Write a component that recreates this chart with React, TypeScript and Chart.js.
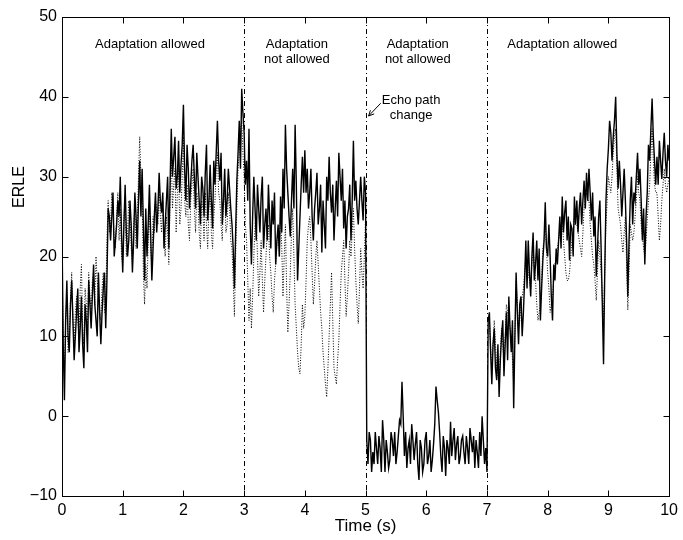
import React, { useEffect, useRef } from "react";
import { Chart, registerables } from "chart.js";

Chart.register(...registerables);

// ---- data (time step of the sampled curves, seconds) ----
const STEP_S = 0.02;

// Solid curve, t = 0 .. 10 s (one row per second)
const solidERLE = [
  23, 9, 2, 12, 17, 10, 8, 14, 17, 12, 7, 10, 13, 16, 8, 11, 15, 9, 6, 14, 12, 8, 17, 14, 11, 15, 19, 14, 12, 10, 18, 13, 9, 13, 16, 18, 11, 17, 26, 25, 22, 25, 28, 20, 22, 24, 27, 25, 30, 23,
  18, 24, 29, 23, 20, 22, 27, 24, 18, 22, 28, 25, 21, 27, 32, 25, 31, 24, 17, 26, 20, 24, 29, 23, 17, 21, 25, 28, 23, 26, 30.5, 27, 25.5, 28, 21, 24, 27, 30, 21, 29, 36, 30, 32.5, 35, 28.5, 30, 34.5, 28, 31.5, 34,
  39, 31, 27, 34, 31, 26, 29, 32, 34, 30, 26, 33, 30, 27, 24, 30, 28.5, 25, 30.5, 34, 24.5, 27, 31.5, 27, 23.5, 32, 29, 33, 37, 32, 29.5, 33, 24, 27, 31, 25, 27, 31, 28.5, 26, 24, 21, 16, 23, 29.5, 33, 37, 31, 41, 38,
  35.5, 29, 32, 27, 36, 24, 19, 25, 30, 26, 22, 29, 26, 23, 27.5, 30, 21, 24, 26, 22, 29, 25, 21, 27, 24, 28, 19, 22, 24, 20, 27.5, 23, 31, 26, 36.5, 31, 28, 25, 22.5, 27, 31, 26, 36.5, 29, 17, 21, 25, 29, 32.5, 28,
  33.3, 28, 31, 26, 28, 31, 25, 22, 26, 28, 30.5, 24, 26, 29, 20.5, 27, 24, 21, 30, 27, 32.5, 28, 25.5, 29, 22, 26, 29.5, 25, 33, 30, 27, 31, 23.5, 27, 21, 25, 26, 29, 22, 27, 34.5, 27, 29.5, 26, 24, 27, 30, 27, 24.5, 30,
  28, -3, -6, -2, -3, -7, -4.5, -6, -2, -4, -6, -2.5, -4, -7, -0.5, -3, -7, -3, -4.5, -6.5, -5.5, -2, -3, -5, -2, -6, -4.5, -2.5, -0.5, -1, 4.3, 0, -5, -2, -6.5, -4, -3, -6, -1, -3, -5.5, -3.5, -2, -6, -8, -3, -4, -7, -6, -3,
  -2, -6, -5, -3, -7, -5.5, -3.5, -1, 3.7, 2, 0.5, -2, -5, -7, -2.5, -4, -7.5, -3, -4, -6, -0.7, -5, -3, -1.5, -5.5, -3.5, -2.5, -6, -5, -3, -2.5, -4.5, -6, -2.5, -4, -6, -1.5, -3, -4.5, -2.5, -6.5, -3, -4.5, -6.5, -2, -5, 0, -3, -6, -4,
  -7, 12, 13, 8, 4, 9, 11, 6, 4.5, 9, 2.4, 7, 10, 12, 5, 9, 13, 7, 15, 11, 8, 12, 1, 10, 18, 13, 9, 14, 15, 10, 13, 17, 22, 16, 22, 18, 15, 20, 23, 17, 19, 22, 17, 21, 12, 16, 19.5, 22, 26.8, 21,
  20, 24, 20, 15, 12, 19, 17, 21, 19, 22, 25, 21, 27.5, 23, 25.5, 27, 22, 25, 19.5, 24, 23.5, 20, 27.5, 24, 27, 23, 26, 28, 24, 27, 29.5, 26, 30.5, 27, 31, 28, 24.5, 28, 22.5, 25, 17.5, 21, 25, 27, 21, 14, 6.5, 18, 27, 31,
  33.5, 37, 35.5, 32, 35, 37, 40, 33, 28.5, 32, 29, 25, 28, 31, 27, 22, 15, 22, 27, 30, 24, 28, 27, 30, 33, 29, 31, 27, 22, 26, 19, 25, 28, 34, 32, 36, 39.8, 35, 32, 29, 32.5, 29, 34.5, 32, 29.7, 33, 35.5, 32, 30, 34, 32,
];

// Dotted curve, first part t = 0 .. 5 s
const dottedERLEFirst = [
  20, 10, 5, 12, 15, 8, 10, 15, 18, 12, 9, 13, 15, 12, 10, 16, 19, 11, 9, 16, 14, 11, 18, 15, 13, 17, 18, 14, 20, 17, 15, 13, 12, 16, 18, 13, 14, 22, 27, 23, 24, 28, 26, 22, 21, 25, 28, 22, 26, 20,
  19, 25, 27, 20, 23, 27, 25, 21, 19, 24, 26, 21, 24, 30, 35, 30, 28, 18, 14, 19, 16, 22, 26, 21, 19, 25, 23, 27, 26, 24, 29, 25, 23, 27, 22, 20, 25, 23, 19, 27, 33, 26, 29, 31, 23, 28, 31, 24, 26, 30,
  35, 27, 25, 29, 24, 22, 27, 29, 31, 26, 23, 28, 27, 23, 21, 27, 26, 22, 28, 24, 21, 26, 29, 23, 21, 25, 27, 31, 33, 28, 27, 24, 22, 27, 29, 23, 24, 28, 26, 22, 21, 17, 12.5, 20, 26, 31, 33, 36, 37, 33,
  30, 24, 22, 17, 12, 16, 11, 15, 20, 24, 25, 20, 15, 18, 22, 17, 13, 17, 20, 23, 24, 20, 18, 15, 13, 17, 19, 22, 23, 20, 26, 21, 15, 20, 24, 16, 10.5, 14, 18, 23, 26, 20, 14, 11, 8, 6, 5.3, 9, 14, 11,
  12.5, 17, 22, 24, 25, 22, 18, 14, 16.5, 20, 22, 19, 16, 13, 11, 8, 6, 4, 2.4, 6, 10, 14, 18, 12, 6, 5, 4, 7, 9.5, 14, 18, 20, 22, 17, 12.5, 15, 18, 22, 20, 23, 26, 21, 17, 14, 11.6, 16, 21, 18, 16, 20,
  25,
];
const DOTTED_FIRST_START_S = 0;

// Dotted curve, second part t = 7.04 .. 10 s
const dottedERLESecond = [
  12, 9, 6, 9, 12, 9, 6, 5, 4, 8, 11, 9, 7, 10, 14, 13, 12, 11, 10, 7, 4, 10, 17, 14, 11, 12, 14, 15, 16, 18, 20, 19, 18, 17, 16, 19, 21, 19, 17, 14, 12, 13, 14, 17, 21, 22, 24, 21,
  18, 16, 13, 14, 15, 17, 19, 20, 21, 22, 23, 24, 25, 22, 20, 18, 17, 17, 18, 20, 22, 23, 25, 24, 24, 23, 22, 21, 20, 23, 26, 27, 28, 27, 27, 24, 22, 20, 19, 17, 14.5, 18, 22, 20, 18, 15, 12, 18, 24, 27,
  30, 29, 28, 30, 33, 35, 36, 31, 26, 25, 24, 22, 20.5, 23, 25, 19, 13.3, 18, 24, 23, 22, 23, 25, 27, 30, 28, 27, 24, 22.6, 21, 20, 22, 24.7, 27, 29, 33, 36, 32, 29, 28, 28, 25, 22, 24, 27, 29, 31, 29, 28, 29, 30,
];
const DOTTED_SECOND_START_S = 7.04;

const xTickValues = [0, 1, 2, 3, 4, 5, 6, 7, 8, 9, 10];
const yTickValues = [-10, 0, 10, 20, 30, 40, 50];
const boundaryTimes = [3, 5, 7];

const regionTitles = [
  { t: 1.45, v: 46.55, lines: ["Adaptation allowed"] },
  { t: 3.87, v: 46.55, lines: ["Adaptation", "not allowed"] },
  { t: 5.86, v: 46.55, lines: ["Adaptation", "not allowed"] },
  { t: 8.24, v: 46.55, lines: ["Adaptation allowed"] },
];
const echoNote = { t: 5.75, v: 39.6, lines: ["Echo path", "change"] };
const echoArrow = { fromT: 5.25, fromV: 39.2, toT: 5.05, toV: 37.6 };

const X_TITLE = "Time (s)";
const Y_TITLE = "ERLE";

const FONT = '"Liberation Sans", Arial, Helvetica, sans-serif';

const toPoints = (vals: number[], start: number) =>
  vals.map((v, i) => ({ x: +(start + i * STEP_S).toFixed(4), y: v }));

const fmtTick = (v: number) => (v < 0 ? "\u2212" + Math.abs(v) : String(v));

const overlayPlugin = {
  id: "matlabOverlay",
  beforeDatasetsDraw(chart: any) {
    const { ctx, chartArea: a, scales } = chart;
    const x = scales.x;
    ctx.save();
    ctx.strokeStyle = "#000";
    ctx.lineWidth = 1;
    ctx.setLineDash([5, 3, 1, 3]);
    for (const t of boundaryTimes) {
      const px = Math.round(x.getPixelForValue(t)) + 0.5;
      ctx.beginPath();
      ctx.moveTo(px, a.top);
      ctx.lineTo(px, a.bottom);
      ctx.stroke();
    }
    ctx.restore();
  },
  afterDraw(chart: any) {
    const { ctx, chartArea: a, scales } = chart;
    const x = scales.x;
    const y = scales.y;
    ctx.save();
    ctx.strokeStyle = "#000";
    ctx.fillStyle = "#000";
    ctx.lineWidth = 1;
    ctx.setLineDash([]);
    const L = Math.round(a.left) + 0.5;
    const R = Math.round(a.right) + 0.5;
    const T = Math.round(a.top) + 0.5;
    const B = Math.round(a.bottom) + 0.5;
    ctx.strokeRect(L, T, R - L, B - T);
    const TL = 6;
    ctx.beginPath();
    for (const t of xTickValues) {
      const px = Math.round(x.getPixelForValue(t)) + 0.5;
      ctx.moveTo(px, B);
      ctx.lineTo(px, B - TL);
      ctx.moveTo(px, T);
      ctx.lineTo(px, T + TL);
    }
    for (const v of yTickValues) {
      const py = Math.round(y.getPixelForValue(v)) + 0.5;
      ctx.moveTo(L, py);
      ctx.lineTo(L + TL, py);
      ctx.moveTo(R, py);
      ctx.lineTo(R - TL, py);
    }
    ctx.stroke();

    ctx.font = `13px ${FONT}`;
    ctx.textAlign = "center";
    ctx.textBaseline = "middle";
    for (const r of regionTitles) {
      const px = x.getPixelForValue(r.t);
      const py = y.getPixelForValue(r.v);
      r.lines.forEach((ln, k) => ctx.fillText(ln, px, py + k * 15));
    }
    {
      const px = x.getPixelForValue(echoNote.t);
      const py = y.getPixelForValue(echoNote.v);
      echoNote.lines.forEach((ln, k) => ctx.fillText(ln, px, py + k * 15));
      const x0 = x.getPixelForValue(echoArrow.fromT);
      const y0 = y.getPixelForValue(echoArrow.fromV);
      const x1 = x.getPixelForValue(echoArrow.toT);
      const y1 = y.getPixelForValue(echoArrow.toV);
      ctx.beginPath();
      ctx.moveTo(x0, y0);
      ctx.lineTo(x1, y1);
      const ang = Math.atan2(y1 - y0, x1 - x0);
      const h = 6;
      ctx.moveTo(x1, y1);
      ctx.lineTo(x1 - h * Math.cos(ang - 0.45), y1 - h * Math.sin(ang - 0.45));
      ctx.moveTo(x1, y1);
      ctx.lineTo(x1 - h * Math.cos(ang + 0.45), y1 - h * Math.sin(ang + 0.45));
      ctx.stroke();
    }
    ctx.textAlign = "center";
    ctx.textBaseline = "middle";
    ctx.font = `17px ${FONT}`;
    ctx.fillText(X_TITLE, (a.left + a.right) / 2, 526);
    ctx.font = `16px ${FONT}`;
    ctx.translate(20, 187);
    ctx.rotate(-Math.PI / 2);
    ctx.fillText(Y_TITLE, 0, 0);
    ctx.restore();
  },
};

export default function App() {
  const ref = useRef<HTMLCanvasElement | null>(null);
  useEffect(() => {
    if (!ref.current) return;
    Chart.defaults.font.family = FONT;
    Chart.defaults.color = "#000";
    const dotStyle = {
      borderColor: "#000",
      borderWidth: 1,
      borderDash: [1, 1.6],
      pointRadius: 0,
      tension: 0,
      fill: false,
    };
    const chart = new Chart(ref.current, {
      type: "line",
      data: {
        datasets: [
          { label: "dotted A", data: toPoints(dottedERLEFirst, DOTTED_FIRST_START_S), ...dotStyle } as any,
          { label: "dotted B", data: toPoints(dottedERLESecond, DOTTED_SECOND_START_S), ...dotStyle } as any,
          {
            label: "solid",
            data: toPoints(solidERLE, 0),
            borderColor: "#000",
            borderWidth: 1.4,
            pointRadius: 0,
            tension: 0,
            fill: false,
          },
        ],
      },
      options: {
        animation: false,
        responsive: false,
        layout: { padding: { left: 0, right: 13, top: 17, bottom: 0 } },
        plugins: { legend: { display: false }, tooltip: { enabled: false } },
        scales: {
          x: {
            type: "linear",
            min: 0,
            max: 10,
            afterBuildTicks: (s: any) => {
              s.ticks = xTickValues.map((v) => ({ value: v }));
            },
            afterFit: (s: any) => {
              s.height = 44;
            },
            grid: { display: false, drawTicks: false },
            border: { display: false },
            ticks: { font: { size: 16 }, padding: 5, maxRotation: 0, color: "#000", callback: (v: any) => fmtTick(+v) },
          },
          y: {
            type: "linear",
            min: -10,
            max: 50,
            afterBuildTicks: (s: any) => {
              s.ticks = yTickValues.map((v) => ({ value: v }));
            },
            afterFit: (s: any) => {
              s.width = 62;
            },
            grid: { display: false, drawTicks: false },
            border: { display: false },
            ticks: { font: { size: 16 }, padding: 5, color: "#000", callback: (v: any) => fmtTick(+v) },
          },
        },
      },
      plugins: [overlayPlugin],
    } as any);
    return () => chart.destroy();
  }, []);
  return (
    <div style={{ position: "fixed", left: 0, top: 0, width: 683, height: 540, background: "#fff" }}>
      <canvas ref={ref} width={683} height={540} />
    </div>
  );
}
